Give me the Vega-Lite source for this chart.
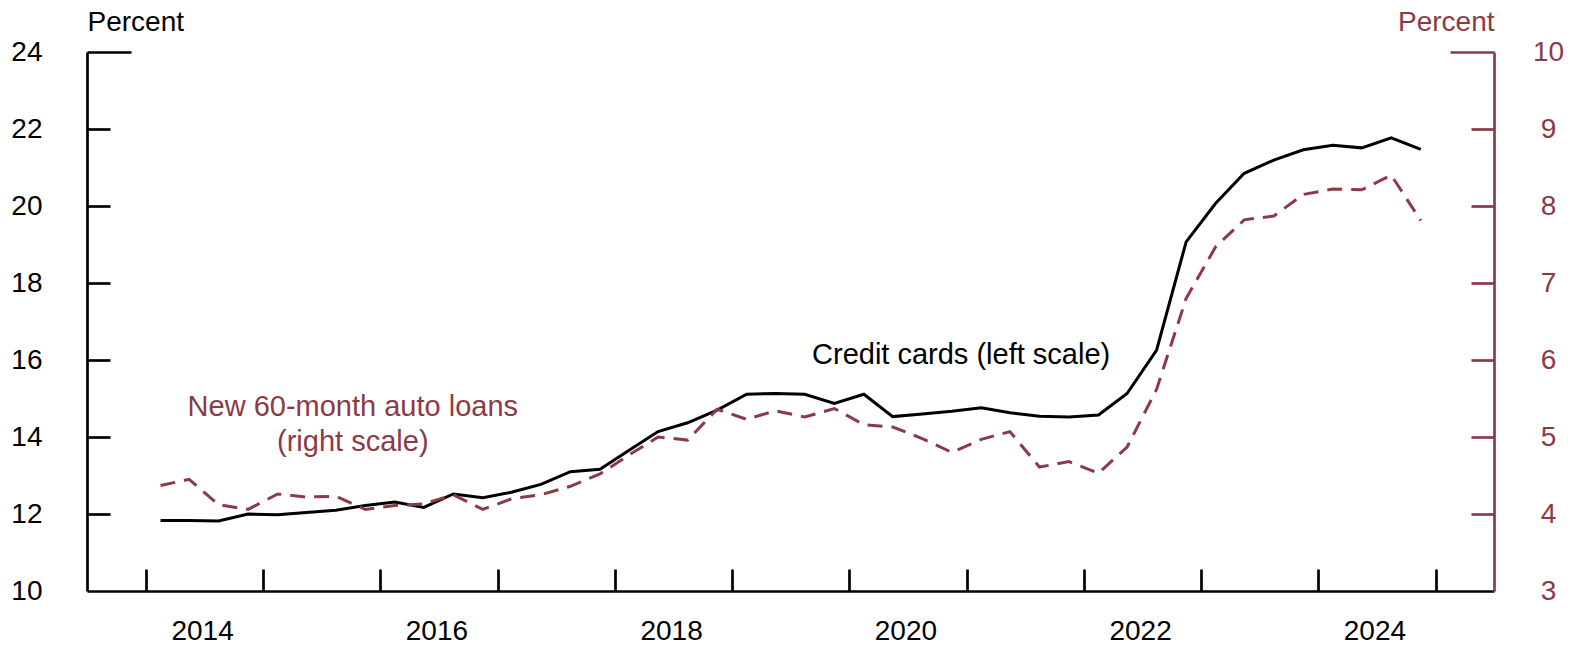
{
  "$schema": "https://vega.github.io/schema/vega-lite/v6.json",
  "width": 1407,
  "height": 539,
  "autosize": {"type": "none"},
  "padding": {"left": 87, "top": 52, "right": 81, "bottom": 58},
  "background": "white",
  "config": {
    "view": {"stroke": null},
    "font": "Liberation Sans",
    "text": {"font": "Liberation Sans"},
    "axis": {"labelFont": "Liberation Sans", "titleFont": "Liberation Sans"}
  },
  "data": {
    "values": [
      {"date": "2014-02-15", "credit": 11.83, "auto": 4.37},
      {"date": "2014-05-15", "credit": 11.83, "auto": 4.45},
      {"date": "2014-08-15", "credit": 11.82, "auto": 4.12},
      {"date": "2014-11-15", "credit": 12.00, "auto": 4.06},
      {"date": "2015-02-15", "credit": 11.98, "auto": 4.26},
      {"date": "2015-05-15", "credit": 12.04, "auto": 4.22},
      {"date": "2015-08-15", "credit": 12.10, "auto": 4.23},
      {"date": "2015-11-15", "credit": 12.22, "auto": 4.06},
      {"date": "2016-02-15", "credit": 12.31, "auto": 4.11},
      {"date": "2016-05-15", "credit": 12.17, "auto": 4.13},
      {"date": "2016-08-15", "credit": 12.52, "auto": 4.25},
      {"date": "2016-11-15", "credit": 12.42, "auto": 4.06},
      {"date": "2017-02-15", "credit": 12.57, "auto": 4.20},
      {"date": "2017-05-15", "credit": 12.77, "auto": 4.25},
      {"date": "2017-08-15", "credit": 13.10, "auto": 4.36},
      {"date": "2017-11-15", "credit": 13.16, "auto": 4.52},
      {"date": "2018-02-15", "credit": 13.66, "auto": 4.77},
      {"date": "2018-05-15", "credit": 14.14, "auto": 5.00},
      {"date": "2018-08-15", "credit": 14.37, "auto": 4.96},
      {"date": "2018-11-15", "credit": 14.70, "auto": 5.36},
      {"date": "2019-02-15", "credit": 15.11, "auto": 5.23},
      {"date": "2019-05-15", "credit": 15.13, "auto": 5.34},
      {"date": "2019-08-15", "credit": 15.11, "auto": 5.26},
      {"date": "2019-11-15", "credit": 14.87, "auto": 5.37},
      {"date": "2020-02-15", "credit": 15.11, "auto": 5.16},
      {"date": "2020-05-15", "credit": 14.53, "auto": 5.13},
      {"date": "2020-08-15", "credit": 14.60, "auto": 4.98},
      {"date": "2020-11-15", "credit": 14.67, "auto": 4.80},
      {"date": "2021-02-15", "credit": 14.76, "auto": 4.97},
      {"date": "2021-05-15", "credit": 14.63, "auto": 5.07},
      {"date": "2021-08-15", "credit": 14.54, "auto": 4.61},
      {"date": "2021-11-15", "credit": 14.52, "auto": 4.68},
      {"date": "2022-02-15", "credit": 14.57, "auto": 4.53},
      {"date": "2022-05-15", "credit": 15.13, "auto": 4.87},
      {"date": "2022-08-15", "credit": 16.26, "auto": 5.62},
      {"date": "2022-11-15", "credit": 19.07, "auto": 6.80},
      {"date": "2023-02-15", "credit": 20.07, "auto": 7.47},
      {"date": "2023-05-15", "credit": 20.85, "auto": 7.82},
      {"date": "2023-08-15", "credit": 21.19, "auto": 7.87},
      {"date": "2023-11-15", "credit": 21.46, "auto": 8.15},
      {"date": "2024-02-15", "credit": 21.58, "auto": 8.22},
      {"date": "2024-05-15", "credit": 21.51, "auto": 8.21},
      {"date": "2024-08-15", "credit": 21.77, "auto": 8.40},
      {"date": "2024-11-15", "credit": 21.47, "auto": 7.81}
    ]
  },
  "layer": [
    {
      "mark": {"type": "line", "color": "#000000", "strokeWidth": 3},
      "encoding": {
        "x": {
          "field": "date",
          "type": "temporal",
          "scale": {
            "type": "utc",
            "domain": [
              {"year": 2013, "month": 7, "date": 1, "utc": true},
              {"year": 2025, "month": 7, "date": 1, "utc": true}
            ]
          },
          "axis": {
            "title": null,
            "values": [
              {"year": 2014, "month": 1, "date": 1, "utc": true},
              {"year": 2015, "month": 1, "date": 1, "utc": true},
              {"year": 2016, "month": 1, "date": 1, "utc": true},
              {"year": 2017, "month": 1, "date": 1, "utc": true},
              {"year": 2018, "month": 1, "date": 1, "utc": true},
              {"year": 2019, "month": 1, "date": 1, "utc": true},
              {"year": 2020, "month": 1, "date": 1, "utc": true},
              {"year": 2021, "month": 1, "date": 1, "utc": true},
              {"year": 2022, "month": 1, "date": 1, "utc": true},
              {"year": 2023, "month": 1, "date": 1, "utc": true},
              {"year": 2024, "month": 1, "date": 1, "utc": true},
              {"year": 2025, "month": 1, "date": 1, "utc": true}
            ],
            "labelExpr": "utcyear(datum.value) % 2 == 0 ? utcFormat(datum.value, '%Y') : ''",
            "labelOffset": 56,
            "labelFontSize": 28,
            "labelColor": "#000000",
            "labelPadding": 40,
            "labelBaseline": "middle",
            "labelAlign": "center",
            "labelFlush": false,
            "labelOverlap": false,
            "ticks": false,
            "domainColor": "#000000",
            "domainWidth": 2.7,
            "grid": true,
            "gridColor": "#000000",
            "gridOpacity": 1,
            "gridWidth": 2.7,
            "gridDash": [0, 517, 22, 1000]
          }
        },
        "y": {
          "field": "credit",
          "type": "quantitative",
          "scale": {"domain": [10, 24], "nice": false, "zero": false},
          "axis": {
            "orient": "left",
            "values": [10, 12, 14, 16, 18, 20, 22, 24],
            "domainColor": "#000000",
            "domainWidth": 2.7,
            "ticks": false,
            "grid": true,
            "gridColor": "#000000",
            "gridWidth": 2.7,
            "gridOpacity": {"condition": {"test": "datum.value == 10", "value": 0}, "value": 1},
            "gridDash": {"condition": {"test": "datum.value == 24", "value": [44, 3000]}, "value": [23, 3000]},
            "labelFontSize": 28,
            "labelColor": "#000000",
            "labelPadding": 45,
            "labelAlign": "right",
            "labelBaseline": "middle",
            "labelFlush": false,
            "labelOverlap": false,
            "title": "Percent",
            "titleAngle": 0,
            "titleX": 0,
            "titleY": -30,
            "titleAlign": "left",
            "titleBaseline": "middle",
            "titleFontSize": 28,
            "titleFontWeight": "normal",
            "titleColor": "#000000"
          }
        }
      }
    },
    {
      "mark": {"type": "line", "color": "#8b3a46", "strokeWidth": 3, "strokeDash": [15, 9]},
      "encoding": {
        "x": {"field": "date", "type": "temporal"},
        "y": {
          "field": "auto",
          "type": "quantitative",
          "scale": {"domain": [3, 10], "nice": false, "zero": false},
          "axis": {
            "orient": "right",
            "values": [3, 4, 5, 6, 7, 8, 9, 10],
            "domainColor": "#8b3a46",
            "domainWidth": 2.7,
            "ticks": false,
            "grid": true,
            "gridColor": "#8b3a46",
            "gridWidth": 2.7,
            "gridOpacity": {"condition": {"test": "datum.value == 3", "value": 0}, "value": 1},
            "gridDash": {"condition": {"test": "datum.value == 10", "value": [44, 3000]}, "value": [23, 3000]},
            "labelFontSize": 28,
            "labelColor": "#8b3a46",
            "labelPadding": 54,
            "labelAlign": "center",
            "labelBaseline": "middle",
            "labelFlush": false,
            "labelOverlap": false,
            "title": "Percent",
            "titleAngle": 0,
            "titleX": 0,
            "titleY": -30,
            "titleAlign": "right",
            "titleBaseline": "middle",
            "titleFontSize": 28,
            "titleFontWeight": "normal",
            "titleColor": "#8b3a46"
          }
        }
      }
    },
    {
      "data": {"values": [{}]},
      "mark": {"type": "text", "fontSize": 29, "align": "center", "baseline": "middle", "color": "#000000"},
      "encoding": {
        "x": {"datum": {"year": 2020, "month": 12, "date": 14, "utc": true}, "type": "temporal"},
        "y": {"datum": 16.12, "type": "quantitative", "scale": {"domain": [10, 24], "nice": false, "zero": false}, "axis": null},
        "text": {"value": "Credit cards (left scale)"}
      }
    },
    {
      "data": {"values": [{}]},
      "mark": {"type": "text", "fontSize": 29, "align": "center", "baseline": "middle", "lineHeight": 35, "color": "#8b3a46"},
      "encoding": {
        "x": {"datum": {"year": 2015, "month": 10, "date": 7, "utc": true}, "type": "temporal"},
        "y": {"datum": 5.39, "type": "quantitative", "scale": {"domain": [3, 10], "nice": false, "zero": false}, "axis": null},
        "text": {"value": ["New 60-month auto loans", "(right scale)"]}
      }
    }
  ],
  "resolve": {"scale": {"y": "independent"}}
}
